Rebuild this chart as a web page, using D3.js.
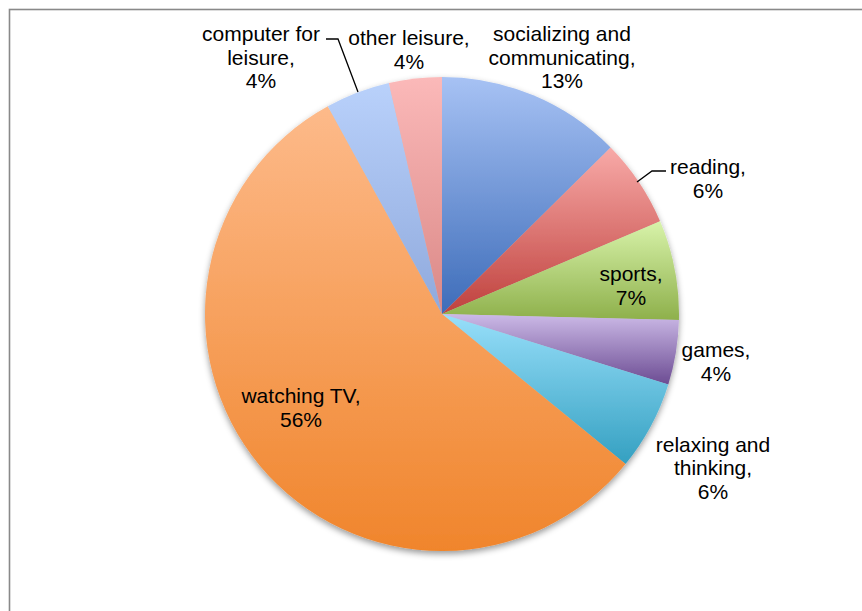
<!DOCTYPE html>
<html>
<head>
<meta charset="utf-8">
<script src="https://cdn.jsdelivr.net/npm/d3@7/dist/d3.min.js"></script>
<style>
  html, body { margin: 0; padding: 0; background: #fff; }
  svg { display: block; }
  text { font-family: "Liberation Sans", Arial, sans-serif; fill: #000; }
</style>
</head>
<body>
<svg id="chart" width="862" height="611"></svg>
<script>
// Share of leisure time by activity (percent), clockwise from 12 o'clock
const categories = [
  "socializing and communicating",
  "reading",
  "sports",
  "games",
  "relaxing and thinking",
  "watching TV",
  "computer for leisure",
  "other leisure"
];
const shares = [12.6, 6.0, 6.8, 4.4, 6.1, 56.1, 4.4, 3.6];

// Label text lines per category (the percent line is appended from the data)
const labelLines = [
  ["socializing and", "communicating,"],
  ["reading,"],
  ["sports,"],
  ["games,"],
  ["relaxing and", "thinking,"],
  ["watching TV,"],
  ["computer for", "leisure,"],
  ["other leisure,"]
];

// Slice fill gradients: light tint at the top, deeper shade at the bottom
const gradTop    = ["#a7c2f4", "#f8aaa8", "#d8f3aa", "#ccbae7", "#98dffa", "#fdba8a", "#b9d1fb", "#fbb9b9"];
const gradBottom = ["#3d6cb9", "#bf413d", "#8eb04b", "#6c4c93", "#34a0c1", "#f0852c", "#8fa9dc", "#da8886"];

// Label block anchors: [center x, first baseline y]
const labelPos = [
  [562, 41], [708, 174], [631, 281], [716, 357],
  [713, 451.5], [301, 403], [261, 41], [409, 45]
];

// Leader lines from label to slice edge
const leaders = [
  { idx: 1, pts: [[666, 171], [652, 171], [637, 182]] },
  { idx: 6, pts: [[326, 39], [338, 39], [358, 92]] }
];

const svg = d3.select("#chart");
const cx = 442, cy = 314, radius = 237;
const lineH = 23.5;

// Chart frame
svg.append("rect")
  .attr("x", 9.5).attr("y", 9.5)
  .attr("width", 900).attr("height", 700)
  .attr("fill", "#fff")
  .attr("stroke", "#898989")
  .attr("stroke-width", 1.6);

const defs = svg.append("defs");

const shadow = defs.append("filter")
  .attr("id", "pieShadow")
  .attr("x", "-10%").attr("y", "-10%")
  .attr("width", "120%").attr("height", "120%");
shadow.append("feDropShadow")
  .attr("dx", 0).attr("dy", 3)
  .attr("stdDeviation", 3)
  .attr("flood-color", "#000")
  .attr("flood-opacity", 0.4);

categories.forEach((c, i) => {
  const g = defs.append("linearGradient")
    .attr("id", "grad" + i)
    .attr("x1", 0).attr("y1", 0).attr("x2", 0).attr("y2", 1);
  g.append("stop").attr("offset", "0%").attr("stop-color", gradTop[i]);
  g.append("stop").attr("offset", "100%").attr("stop-color", gradBottom[i]);
});

const pie = d3.pie().sort(null).value(d => d)
  .startAngle(0).endAngle(2 * Math.PI);
const arcs = pie(shares);
const arc = d3.arc().innerRadius(0).outerRadius(radius);

const pieG = svg.append("g")
  .attr("transform", `translate(${cx},${cy})`)
  .attr("filter", "url(#pieShadow)");

pieG.selectAll("path")
  .data(arcs)
  .join("path")
  .attr("d", arc)
  .attr("fill", (d, i) => `url(#grad${i})`);

// Leader lines
svg.append("g").selectAll("polyline")
  .data(leaders)
  .join("polyline")
  .attr("points", d => d.pts.map(p => p.join(",")).join(" "))
  .attr("fill", "none")
  .attr("stroke", "#000")
  .attr("stroke-width", 1.3);

// Data labels
const labels = svg.append("g").selectAll("text")
  .data(arcs)
  .join("text")
  .attr("text-anchor", "middle")
  .attr("font-size", 21)
  .attr("x", (d, i) => labelPos[i][0])
  .attr("y", (d, i) => labelPos[i][1]);

labels.each(function (d, i) {
  const total = d3.sum(shares);
  const lines = labelLines[i].concat([Math.round(d.data / total * 100) + "%"]);
  d3.select(this).selectAll("tspan")
    .data(lines)
    .join("tspan")
    .attr("x", labelPos[i][0])
    .attr("dy", (t, j) => j === 0 ? 0 : lineH)
    .text(t => t);
});
</script>
</body>
</html>
